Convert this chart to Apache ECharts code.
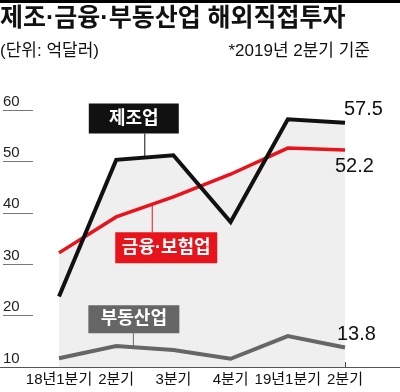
<!DOCTYPE html>
<html><head><meta charset="utf-8">
<script src="https://cdn.jsdelivr.net/npm/echarts@6/dist/echarts.min.js"></script>
<style>html,body{margin:0;padding:0;background:#fff}#c{width:400px;height:392px}</style>
</head><body><div id="c"></div>
<script>
const categories = ['18년1분기','2분기','3분기','4분기','19년1분기','2분기'];
const manufacturing = [23.7, 50.3, 51.2, 38.2, 58.2, 57.5];
const finance = [32.2, 39.2, 43.1, 47.5, 52.6, 52.2];
const realEstate = [11.7, 14.1, 13.3, 11.6, 16.0, 13.8];
const yTicks = [10, 20, 30, 40, 50, 60];
const title = '제조·금융·부동산업 해외직접투자';
const unitText = '(단위: 억달러)';
const noteText = '*2019년 2분기 기준';

const KR = '"Liberation Sans", "Noto Sans CJK KR", sans-serif';
const NUM = '"Liberation Sans Narrow", "Liberation Sans", sans-serif';
const SHADE = '#efefef';
const BLACK = '#111111', RED = '#e8141b', GRAY = '#666666';

const chart = echarts.init(document.getElementById('c'), null, {renderer: 'canvas'});
const endLabel = (offset) => ({
  show: true, distance: 0, offset: offset, align: 'left', verticalAlign: 'middle',
  fontFamily: NUM, fontSize: 20, color: '#111',
  formatter: p => String(p.value)
});
const lineSeries = (data, color, width, label) => ({
  type: 'line', data: data, xAxisIndex: 0, yAxisIndex: 0,
  showSymbol: false, symbol: 'none', z: 5,
  lineStyle: {color: color, width: width, join: 'miter', cap: 'butt'},
  endLabel: label
});
const areaSeries = (data) => ({
  type: 'line', data: data, xAxisIndex: 0, yAxisIndex: 0,
  showSymbol: false, symbol: 'none', z: 1, silent: true,
  lineStyle: {width: 0, opacity: 0},
  areaStyle: {color: SHADE, opacity: 1}
});

const option = {
  animation: false,
  backgroundColor: '#fff',
  grid: [
    {left: 59, right: 55, top: 110, bottom: 25},
    {left: 0, width: 33, top: 110, bottom: 25},
    {left: 0, right: 0, top: 110, bottom: 25}
  ],
  xAxis: [
    {gridIndex: 0, type: 'category', data: categories, boundaryGap: false,
     axisLine: {show: false},
     axisTick: {show: true, inside: true, length: 5, alignWithLabel: true, lineStyle: {color: '#444', width: 1}},
     axisLabel: {interval: 0, margin: 5, fontFamily: KR, fontSize: 15, color: '#111'},
     splitLine: {show: false}},
    {gridIndex: 1, type: 'value', show: false},
    {gridIndex: 2, type: 'value', min: 0, max: 1,
     axisLine: {show: true, lineStyle: {color: '#555', width: 1}},
     axisTick: {show: false}, axisLabel: {show: false}, splitLine: {show: false}}
  ],
  yAxis: [
    {gridIndex: 0, type: 'value', min: yTicks[0], max: yTicks[yTicks.length-1], interval: 10, show: false},
    {gridIndex: 1, type: 'value', min: yTicks[0], max: yTicks[yTicks.length-1], interval: 10,
     axisLine: {show: false}, axisTick: {show: false},
     axisLabel: {inside: true, margin: 0, align: 'left', verticalAlign: 'bottom',
       fontFamily: NUM, fontSize: 15, color: '#222', padding: [0,0,1,0]},
     splitLine: {show: true, lineStyle: {color: '#777', width: 1}}},
    {gridIndex: 2, type: 'value', show: false}
  ],
  series: [
    areaSeries(manufacturing),
    areaSeries(finance),
    lineSeries(realEstate, GRAY, 4, endLabel([-8, -13])),
    lineSeries(finance, RED, 3.5, endLabel([-10, 16])),
    lineSeries(manufacturing, BLACK, 4, endLabel([-1, -13]))
  ]
};
chart.setOption(option);

// annotations anchored on the series lines through the chart's own scales
const annotations = [
  {text: '제조업', series: 4, data: manufacturing, i: 1, t: 0.5, color: BLACK, above: true, gap: 24, dx: 56, w: 90, h: 30, fs: 18},
  {text: '금융·보험업', series: 3, data: finance, i: 1, t: 0.63, color: RED, above: false, gap: 28, dx: 37, w: 102, h: 31, fs: 18},
  {text: '부동산업', series: 2, data: realEstate, i: 1, t: 0.3, color: GRAY, above: true, gap: 14, dx: 45, w: 91, h: 28, fs: 18}
];
const graphics = [
  {type: 'rect', left: 0, top: 0, shape: {width: 400, height: 3}, style: {fill: '#000'}},
  {type: 'text', left: 0, top: 7, style: {text: title, font: 'bold 25px ' + KR, fill: '#111'}},
  {type: 'text', left: 0, top: 43, style: {text: unitText, font: '17px ' + KR, fill: '#111'}},
  {type: 'text', right: 30, top: 43, style: {text: noteText, font: '17px ' + KR, fill: '#111'}}
];
annotations.forEach(a => {
  const p0 = chart.convertToPixel({seriesIndex: a.series}, [a.i, a.data[a.i]]);
  const p1 = chart.convertToPixel({seriesIndex: a.series}, [a.i + 1, a.data[a.i + 1]]);
  const ax = p0[0] + (p1[0] - p0[0]) * a.t;
  const ay = p0[1] + (p1[1] - p0[1]) * a.t;
  const top = a.above ? ay - a.gap - a.h : ay + a.gap;
  const left = ax - a.dx;
  const lineEnd = a.above ? top + a.h : top;
  graphics.push({type: 'line', z: 10, shape: {x1: ax, y1: ay, x2: ax, y2: lineEnd}, style: {stroke: a.color, lineWidth: 1}});
  graphics.push({type: 'rect', z: 11, shape: {x: left, y: top, width: a.w, height: a.h}, style: {fill: a.color}});
  graphics.push({type: 'text', z: 12, x: left + a.w / 2, y: top + a.h / 2,
    style: {text: a.text, font: 'bold ' + a.fs + 'px ' + KR, fill: '#fff', align: 'center', verticalAlign: 'middle'}});
});
chart.setOption({graphic: graphics});
</script>
</body></html>
